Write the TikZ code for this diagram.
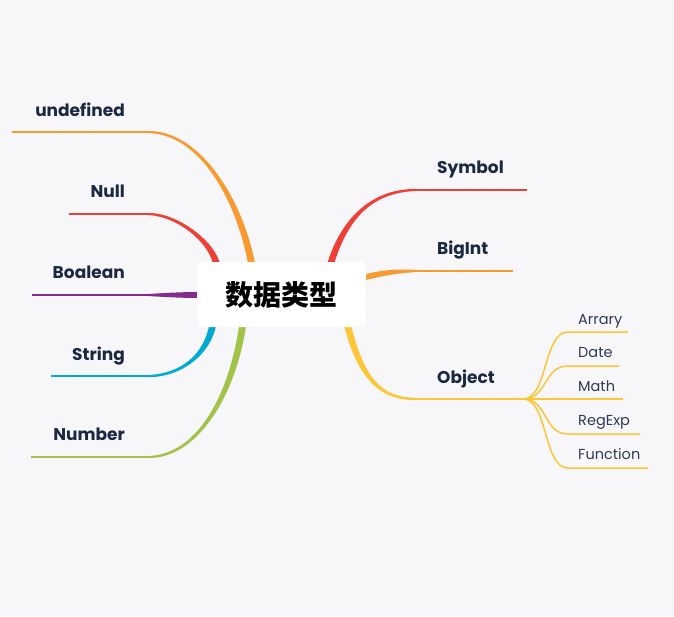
\documentclass[tikz,border=0pt]{standalone}
\usepackage{fontspec}
\setmainfont{Poppins}
\newfontfamily\cjk{Noto Sans CJK SC}
\usetikzlibrary{calc,backgrounds}

\definecolor{paper}{HTML}{F7F7F9}
\definecolor{ink}{HTML}{1B2842}
\definecolor{inklight}{HTML}{2E3A55}
\definecolor{cOrange}{HTML}{F89A30}
\definecolor{cRed}{HTML}{EE4036}
\definecolor{cPurple}{HTML}{812B8E}
\definecolor{cCyan}{HTML}{04A9D1}
\definecolor{cGreen}{HTML}{A1C34A}
\definecolor{cYellow}{HTML}{FDC638}

% tapered branch: colour, from, ctrl a, ctrl b, to, start offset, end offset
\newcommand{\limb}[7]{%
  \fill[#1] ($(#2)+(#6)$) .. controls ($(#3)+(#6)$) and ($(#4)+2*(#7)$) .. ($(#5)+(#7)$)
    -- ($(#5)-(#7)$) .. controls ($(#4)-2*(#7)$) and ($(#3)-(#6)$) .. ($(#2)-(#6)$) -- cycle;}

\begin{document}
\begin{tikzpicture}[x=1pt,y=-1pt,
  root/.style={fill=white,rounded corners=6pt,minimum width=169pt,minimum height=65pt,inner sep=0pt,font=\cjk\bfseries\fontsize{28pt}{30pt}\selectfont},
  lab/.style={inner sep=0pt,text=ink,font=\bfseries\fontsize{17pt}{20pt}\selectfont},
  leaf/.style={inner sep=0pt,text=inklight,font=\fontsize{14.5pt}{17pt}\selectfont,anchor=base west},
  twig/.style={line width=2pt},
  sprig/.style={cYellow,line width=1.5pt}]

\node[root] (root) at (281.5,294.5) {数据类型};

% left side
\node[lab,anchor=base east] (undefined) at (125,116) {undefined};
\node[lab,anchor=base east] (null) at (125,197) {Null};
\node[lab,anchor=base east] (boalean) at (125,278) {Boalean};
\node[lab,anchor=base east] (string) at (125,360) {String};
\node[lab,anchor=base east] (number) at (125,440) {Number};

% right side
\node[lab,anchor=base west] (symbol) at (437,173) {Symbol};
\node[lab,anchor=base west] (bigint) at (437,254) {BigInt};
\node[lab,anchor=base west] (object) at (437,383) {Object};

% object children
\node[leaf] (arrary) at (578,324) {Arrary};
\node[leaf] (date) at (578,357) {Date};
\node[leaf] (math) at (578,391) {Math};
\node[leaf] (regexp) at (578,425) {RegExp};
\node[leaf] (function) at (578,459) {Function};

% where branches leave the root
\coordinate (s-undef) at ($(root.north)+(-29.5,4)$);
\coordinate (s-null) at ($(root.north)+(-64.5,4)$);
\coordinate (s-bool) at ($(root.west)+(4,0.5)$);
\coordinate (s-string) at ($(root.south)+(-68.5,-4)$);
\coordinate (s-number) at ($(root.south)+(-38.5,-4)$);
\coordinate (s-symbol) at ($(root.north)+(48.5,4)$);
\coordinate (s-bigint) at ($(root.east)+(-4,-16.5)$);
\coordinate (s-object) at ($(root.south)+(65.5,-4)$);

% joints and tips of the underlines
\coordinate (j-undef) at (148,132);  \coordinate (t-undef) at (12,132);
\coordinate (j-null) at (148,214);   \coordinate (t-null) at (69,214);
\coordinate (j-bool) at (148,295);   \coordinate (t-bool) at (32,295);
\coordinate (j-string) at (148,376); \coordinate (t-string) at (51,376);
\coordinate (j-number) at (148,457); \coordinate (t-number) at (31,457);
\coordinate (j-symbol) at (417,190); \coordinate (t-symbol) at (527,190);
\coordinate (j-bigint) at (417,271); \coordinate (t-bigint) at (513,271);
\coordinate (j-object) at (417,399); \coordinate (t-object) at (523,399);

\begin{pgfonlayer}{background}
\fill[paper] (0,0) rectangle (674,616);

\limb{cOrange}{s-undef}{240,200}{200,132}{j-undef}{3.5,0}{0,-1}
\limb{cRed}{s-null}{212,240}{175,214}{j-null}{3.5,0}{0,-1}
\limb{cPurple}{s-bool}{180,295}{165,295}{j-bool}{0,-3}{0,-1}
\limb{cCyan}{s-string}{208,355}{180,376}{j-string}{-3.5,0}{0,-1}
\limb{cGreen}{s-number}{232,400}{195,457}{j-number}{-3.5,0}{0,-1}
\limb{cRed}{s-symbol}{345,215}{375,190}{j-symbol}{3.5,0}{0,1}
\limb{cOrange}{s-bigint}{385,272}{400,271}{j-bigint}{0,3}{0,1}
\limb{cYellow}{s-object}{362,385}{385,399}{j-object}{-3.5,0}{0,1}

\draw[twig,cOrange] (j-undef) -- (t-undef);
\draw[twig,cRed] (j-null) -- (t-null);
\draw[twig,cPurple] (j-bool) -- (t-bool);
\draw[twig,cCyan] (j-string) -- (t-string);
\draw[twig,cGreen] (j-number) -- (t-number);
\draw[twig,cRed] (j-symbol) -- (t-symbol);
\draw[twig,cOrange] (j-bigint) -- (t-bigint);
\draw[twig,cYellow] (j-object) -- (t-object);

\foreach \y/\tip in {332/628,366/619,399/623,434/640,468/648}
  \draw[sprig] (t-object) .. controls (548,399) and (543,\y) .. (568,\y) -- (\tip,\y);
\end{pgfonlayer}
\end{tikzpicture}
\end{document}
